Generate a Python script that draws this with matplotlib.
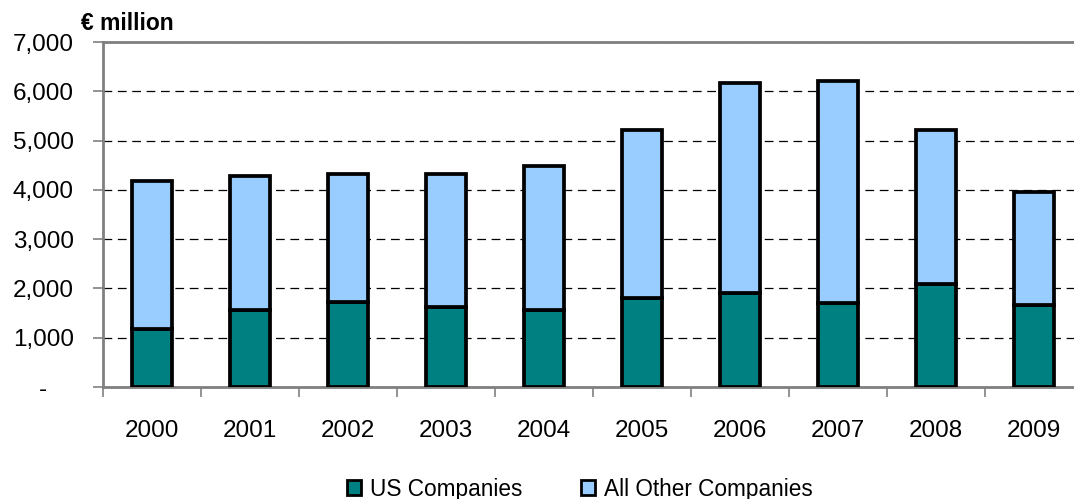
import numpy as np
import matplotlib.pyplot as plt
from matplotlib.patches import Patch
from matplotlib.ticker import FuncFormatter

plt.rcParams['font.family'] = ['Liberation Sans', 'DejaVu Sans']

# R&D spend, EUR million
years = ['2000', '2001', '2002', '2003', '2004', '2005', '2006', '2007', '2008', '2009']
us_companies = [1180, 1560, 1720, 1620, 1570, 1800, 1900, 1710, 2090, 1670]
all_other = [3010, 2720, 2600, 2700, 2920, 3420, 4270, 4500, 3130, 2290]

TEAL = '#008080'
LIGHT_BLUE = '#99CCFF'
GREY = '#808080'

fig = plt.figure(figsize=(10.74, 4.99), dpi=100)
ax = fig.add_axes([0.0959, 0.2244, 0.9125, 0.6914])

x = np.arange(len(years))
ax.bar(x, us_companies, width=0.41, color=TEAL, edgecolor='black', linewidth=2.7, zorder=3)
ax.bar(x, all_other, width=0.41, bottom=us_companies, color=LIGHT_BLUE,
       edgecolor='black', linewidth=2.7, zorder=3)

ax.set_xlim(-0.5, len(years) - 0.5)
ax.set_ylim(0, 7000)
ax.set_yticks(np.arange(0, 7001, 1000))
ax.yaxis.set_major_formatter(FuncFormatter(lambda v, p: '-    ' if v == 0 else f'{int(v):,}'))
ax.yaxis.grid(True, linestyle=(0, (7, 4.5)), color='black', linewidth=0.9, zorder=1)

# year labels centred under bars, ticks between categories
ax.set_xticks(np.arange(-0.5, len(years), 1.0))
ax.set_xticklabels([])
ax.set_xticks(x, minor=True)
ax.set_xticklabels(years, minor=True)
ax.tick_params(axis='x', which='minor', length=0, pad=24, labelsize=17.5)
ax.tick_params(axis='x', which='major', length=7, width=1.2, color=GREY, direction='out')
ax.tick_params(axis='y', length=7, width=1.2, color=GREY, labelsize=17.5, pad=14)

for side in ['left', 'bottom', 'top']:
    ax.spines[side].set_color(GREY)
    ax.spines[side].set_linewidth(2)
ax.spines['right'].set_visible(False)

fig.text(0.075, 0.94, '€ million', fontsize=16.5, fontweight='bold')

handles = [Patch(facecolor=TEAL, edgecolor='black', linewidth=2, label='US Companies'),
           Patch(facecolor=LIGHT_BLUE, edgecolor='black', linewidth=2, label='All Other Companies')]
fig.legend(handles=handles, loc='center', bbox_to_anchor=(0.54, 0.02), ncol=2,
           frameon=False, fontsize=16.3, handlelength=0.6, handleheight=0.6,
           handletextpad=0.4, columnspacing=2.6)

fig.savefig('out.png', dpi=100)
